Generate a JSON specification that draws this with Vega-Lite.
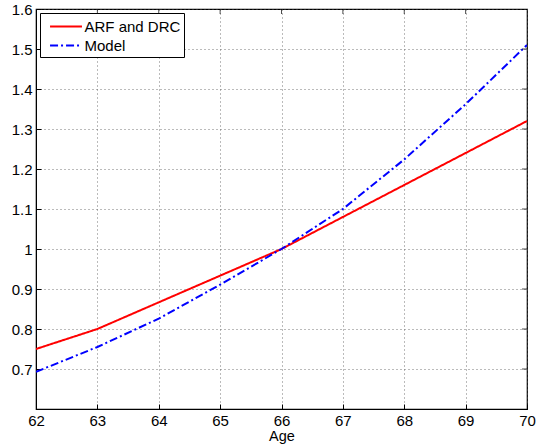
{
  "$schema": "https://vega.github.io/schema/vega-lite/v6.json",
  "width": 491,
  "height": 400,
  "autosize": "none",
  "padding": {"left": 36, "top": 9, "right": 9, "bottom": 39},
  "background": "white",
  "config": {
    "font": "Liberation Sans",
    "view": {"stroke": "black", "strokeWidth": 1.2},
    "axis": {
      "labelFont": "Liberation Sans",
      "titleFont": "Liberation Sans",
      "labelFontSize": 15,
      "titleFontSize": 14.5,
      "titleFontWeight": "normal",
      "labelColor": "black",
      "titleColor": "black",
      "domainColor": "black",
      "tickColor": "black",
      "gridColor": "#555",
      "gridDash": [1, 3],
      "gridOpacity": 0.8,
      "labelFlush": false,
      "labelOverlap": false
    }
  },
  "datasets": {
    "curves": [
      {"age": 62, "value": 0.75, "series": "ARF and DRC"},
      {"age": 63, "value": 0.80, "series": "ARF and DRC"},
      {"age": 64, "value": 0.8667, "series": "ARF and DRC"},
      {"age": 65, "value": 0.9333, "series": "ARF and DRC"},
      {"age": 66, "value": 1.0, "series": "ARF and DRC"},
      {"age": 67, "value": 1.08, "series": "ARF and DRC"},
      {"age": 68, "value": 1.16, "series": "ARF and DRC"},
      {"age": 69, "value": 1.24, "series": "ARF and DRC"},
      {"age": 70, "value": 1.32, "series": "ARF and DRC"},
      {"age": 62, "value": 0.693, "series": "Model"},
      {"age": 63, "value": 0.755, "series": "Model"},
      {"age": 64, "value": 0.826, "series": "Model"},
      {"age": 65, "value": 0.911, "series": "Model"},
      {"age": 66, "value": 1.0, "series": "Model"},
      {"age": 67, "value": 1.1, "series": "Model"},
      {"age": 68, "value": 1.224, "series": "Model"},
      {"age": 69, "value": 1.362, "series": "Model"},
      {"age": 70, "value": 1.51, "series": "Model"}
    ],
    "xticks": [{"age": 63}, {"age": 64}, {"age": 65}, {"age": 66}, {"age": 67}, {"age": 68}, {"age": 69}],
    "yticks": [{"value": 0.7}, {"value": 0.8}, {"value": 0.9}, {"value": 1.0}, {"value": 1.1}, {"value": 1.2}, {"value": 1.3}, {"value": 1.4}, {"value": 1.5}]
  },
  "layer": [
    {
      "data": {"name": "curves"},
      "mark": {"type": "line", "strokeWidth": 2, "clip": true},
      "encoding": {
        "x": {
          "field": "age", "type": "quantitative",
          "scale": {"domain": [62, 70], "nice": false, "zero": false},
          "axis": {"title": "Age", "values": [62,63,64,65,66,67,68,69,70], "format": "d", "tickSize": -5, "labelPadding": 9, "titlePadding": 1, "grid": true, "domain": true}
        },
        "y": {
          "field": "value", "type": "quantitative",
          "scale": {"domain": [0.6, 1.6], "nice": false, "zero": false},
          "axis": {"title": null, "values": [0.7,0.8,0.9,1,1.1,1.2,1.3,1.4,1.5,1.6], "tickSize": -5, "labelPadding": 9, "grid": true, "labelExpr": "datum.value == 1 ? '1' : format(datum.value, '.1f')"}
        },
        "color": {
          "field": "series", "type": "nominal",
          "scale": {"domain": ["ARF and DRC", "Model"], "range": ["#ff0000", "#0000ff"]},
          "legend": {
            "title": null,
            "orient": "none",
            "legendX": 4,
            "legendY": 4,
            "strokeColor": "black",
            "fillColor": "white",
            "padding": 3,
            "symbolType": "M-1.68,0H1.68",
            "symbolSize": 361,
            "symbolStrokeWidth": 2,
            "symbolOffset": 12.5,
            "labelFontSize": 15,
            "labelFont": "Liberation Sans",
            "labelColor": "black",
            "rowPadding": 0,
            "labelOffset": 8
          }
        },
        "strokeDash": {
          "field": "series", "type": "nominal",
          "scale": {"domain": ["ARF and DRC", "Model"], "range": [[1, 0], [8, 3, 2, 3]]},
          "legend": {"title": null}
        }
      }
    },
    {
      "data": {"name": "xticks"},
      "mark": {"type": "tick", "orient": "vertical", "size": 10, "thickness": 1, "color": "black", "clip": true},
      "encoding": {
        "x": {"field": "age", "type": "quantitative"},
        "y": {"datum": 1.6, "type": "quantitative"}
      }
    },
    {
      "data": {"name": "yticks"},
      "mark": {"type": "tick", "orient": "horizontal", "size": 10, "thickness": 1, "color": "black", "clip": true},
      "encoding": {
        "y": {"field": "value", "type": "quantitative"},
        "x": {"datum": 70, "type": "quantitative"}
      }
    }
  ]
}
